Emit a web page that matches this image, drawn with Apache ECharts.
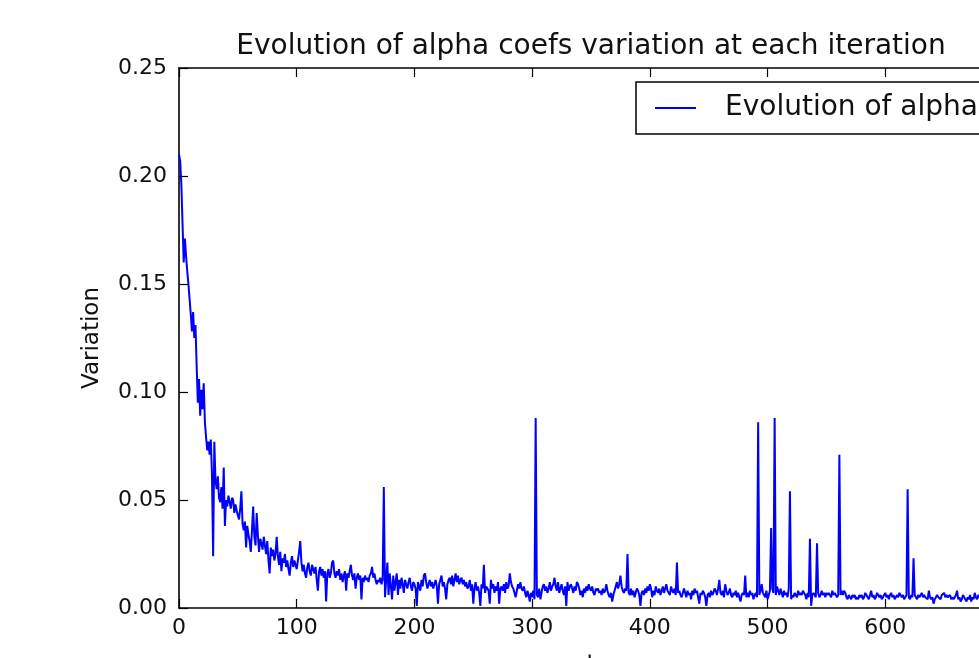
<!DOCTYPE html>
<html>
<head>
<meta charset="utf-8">
<script src="https://cdn.jsdelivr.net/npm/echarts@6/dist/echarts.min.js"></script>
<style>
html,body{margin:0;padding:0;background:#fff;overflow:hidden;}
#chart{width:1040px;height:700px;}
</style>
</head>
<body>
<div id="chart"></div>
<script>
// ---- data ----
const chartTitle = "Evolution of alpha coefs variation at each iteration";
const seriesName = "Evolution of alpha";
const xName = "t";
const yName = "Variation";
const xTicks = [0, 100, 200, 300, 400, 500, 600, 700];
const yTicks = [0.00, 0.05, 0.10, 0.15, 0.20, 0.25];
// variation value at each iteration t = 0, 1, 2, ...
const variation = [
.210,.207,.196,.178,.160,.171,.163,.156,.150,.143,
.136,.128,.137,.125,.131,.112,.095,.106,.089,.101,
.092,.104,.086,.079,.073,.077,.071,.078,.062,.024,
.077,.059,.055,.061,.051,.049,.056,.046,.065,.038,
.050,.047,.052,.049,.046,.051,.050,.044,.048,.045,
.043,.041,.046,.054,.039,.036,.040,.028,.038,.034,
.031,.026,.036,.047,.033,.029,.044,.034,.026,.032,
.030,.027,.033,.029,.025,.031,.022,.016,.028,.024,
.027,.022,.025,.033,.024,.020,.026,.017,.023,.021,
.025,.019,.022,.018,.015,.021,.024,.019,.022,.020,
.018,.022,.026,.031,.021,.017,.020,.016,.014,.019,
.021,.017,.015,.020,.018,.016,.019,.013,.008,.017,
.019,.015,.018,.014,.017,.003,.016,.018,.014,.016,
.021,.022,.016,.014,.017,.015,.018,.013,.016,.012,
.015,.017,.008,.016,.014,.017,.020,.015,.013,.016,
.009,.014,.016,.013,.015,.004,.014,.012,.015,.013,
.014,.012,.015,.016,.019,.014,.016,.013,.011,.013,
.012,.014,.011,.013,.056,.005,.013,.021,.006,.016,
.010,.004,.015,.008,.012,.016,.006,.013,.009,.014,
.011,.007,.013,.011,.009,.012,.014,.010,.008,.012,
.011,.009,.001,.012,.010,.008,.013,.010,.015,.016,
.012,.009,.011,.013,.010,.012,.009,.011,.013,.010,
.002,.011,.013,.015,.010,.012,.009,.004,.011,.013,
.014,.011,.015,.010,.013,.016,.012,.015,.011,.013,
.014,.011,.013,.010,.012,.009,.010,.013,.008,.011,
.002,.009,.012,.008,.010,.007,.001,.011,.009,.020,
.007,.010,.009,.008,.002,.013,.009,.011,.007,.010,
.008,.012,.002,.009,.010,.008,.011,.007,.012,.009,
.010,.016,.012,.010,.009,.007,.005,.008,.011,.009,
.012,.009,.008,.010,.007,.005,.008,.006,.003,.007,
.005,.008,.004,.088,.006,.005,.009,.004,.007,.010,
.011,.008,.010,.007,.009,.012,.008,.010,.011,.014,
.010,.008,.012,.007,.009,.011,.008,.006,.010,.001,
.012,.008,.010,.011,.009,.007,.010,.008,.012,.011,
.009,.006,.008,.005,.009,.007,.010,.008,.011,.009,
.008,.010,.007,.006,.009,.008,.009,.007,.008,.006,
.009,.007,.008,.011,.008,.006,.005,.007,.003,.006,
.008,.010,.012,.009,.011,.015,.010,.008,.007,.009,
.008,.025,.007,.006,.009,.006,.008,.005,.007,.009,
.008,.006,.001,.007,.008,.006,.009,.007,.010,.008,
.011,.009,.005,.008,.006,.010,.008,.007,.009,.006,
.008,.010,.007,.009,.011,.008,.007,.006,.010,.008,
.007,.009,.006,.021,.007,.008,.006,.005,.007,.009,
.007,.005,.008,.006,.007,.004,.008,.006,.009,.007,
.008,.005,.002,.007,.006,.008,.007,.005,.001,.006,
.007,.005,.008,.006,.007,.009,.008,.006,.009,.013,
.007,.006,.008,.005,.011,.008,.006,.007,.009,.006,
.005,.007,.006,.008,.005,.007,.005,.003,.006,.007,
.006,.015,.005,.007,.005,.008,.006,.007,.004,.006,
.007,.005,.086,.006,.008,.011,.007,.006,.005,.008,
.004,.006,.008,.037,.009,.007,.088,.006,.010,.008,
.006,.009,.007,.005,.008,.006,.007,.005,.009,.054,
.004,.006,.005,.007,.006,.005,.008,.006,.007,.006,
.008,.007,.006,.004,.007,.005,.032,.001,.006,.007,
.006,.005,.030,.007,.005,.006,.008,.006,.007,.005,
.007,.006,.007,.006,.005,.008,.006,.007,.006,.005,
.006,.071,.006,.008,.006,.008,.007,.005,.004,.006,
.005,.004,.006,.005,.006,.004,.005,.004,.006,.005,
.006,.004,.005,.007,.006,.005,.004,.006,.008,.005,
.006,.004,.005,.007,.006,.005,.006,.004,.005,.006,
.007,.005,.006,.004,.006,.007,.005,.006,.004,.005,
.006,.005,.007,.006,.005,.006,.004,.005,.006,.055,
.005,.004,.006,.005,.023,.006,.005,.004,.006,.005,
.006,.007,.005,.006,.005,.005,.004,.008,.005,.004,
.005,.002,.004,.005,.006,.005,.005,.004,.006,.006,
.007,.005,.006,.005,.005,.006,.004,.005,.004,.005,
.006,.008,.004,.005,.003,.004,.006,.005,.004,.003,
.005,.004,.006,.003,.005,.004,.007,.005,.004,.006,
.005,.004,.006,.005,.003,.005,.004,.006,.005,.004,
.005,.006,.004,.005,.003,.005,.004,.006,.004,.005
];

const FONT = "DejaVu Sans";
const points = variation.map((v, i) => [i, v]);

const xMin = xTicks[0], xMax = xTicks[xTicks.length - 1], xStep = xTicks[1] - xTicks[0];
const yMin = yTicks[0], yMax = yTicks[yTicks.length - 1], yStep = yTicks[1] - yTicks[0];

const lineCol = '#000';
function xAx(pos, showLabel) {
  return {
    type: 'value', position: pos, min: xMin, max: xMax, interval: xStep,
    name: showLabel ? xName : '', nameLocation: 'middle', nameGap: 46,
    nameTextStyle: {fontFamily: FONT, fontSize: 23, color: '#111'},
    axisLine: {show: true, onZero: false, lineStyle: {color: lineCol, width: 1.6}},
    axisTick: {show: true, inside: true, length: 9, lineStyle: {color: lineCol, width: 1.2}},
    axisLabel: {show: showLabel, margin: 9, fontFamily: FONT, fontSize: 22, color: '#111'},
    splitLine: {show: false}
  };
}
function yAx(pos, showLabel) {
  return {
    type: 'value', position: pos, min: yMin, max: yMax, interval: yStep,
    name: showLabel ? yName : '', nameLocation: 'middle', nameGap: 75, nameRotate: 90,
    nameTextStyle: {fontFamily: FONT, fontSize: 23, color: '#111'},
    axisLine: {show: true, onZero: false, lineStyle: {color: lineCol, width: 1.6}},
    axisTick: {show: true, inside: true, length: 9, lineStyle: {color: lineCol, width: 1.2}},
    axisLabel: {show: showLabel, margin: 12, fontFamily: FONT, fontSize: 22, color: '#111',
      formatter: v => v.toFixed(2)},
    splitLine: {show: false}
  };
}

const chart = echarts.init(document.getElementById('chart'), null, {renderer: 'canvas'});
chart.setOption({
  animation: false,
  backgroundColor: '#fff',
  title: {
    text: chartTitle, left: 591, top: 33, textAlign: 'center', padding: 0,
    textStyle: {fontFamily: FONT, fontSize: 28, fontWeight: 'normal', color: '#111'}
  },
  legend: {
    data: [seriesName], left: 636, top: 82,
    padding: [12, 14, 12, 19],
    borderColor: '#000', borderWidth: 1.5, borderRadius: 0,
    icon: 'rect', itemWidth: 41, itemHeight: 2,
    itemStyle: {color: '#0000ff'},
    textStyle: {fontFamily: FONT, fontSize: 28, color: '#111', padding: [0, 0, 0, 24]}
  },
  grid: {left: 179, top: 68, width: 824, height: 540, containLabel: false, outerBoundsMode: 'none'},
  xAxis: [xAx('bottom', true), xAx('top', false)],
  yAxis: [yAx('left', true), yAx('right', false)],
  series: [{
    name: seriesName, type: 'line', data: points,
    xAxisIndex: 0, yAxisIndex: 0,
    showSymbol: false, symbol: 'none',
    lineStyle: {color: '#0000ff', width: 2},
    itemStyle: {color: '#0000ff'}
  }]
});
</script>
</body>
</html>
